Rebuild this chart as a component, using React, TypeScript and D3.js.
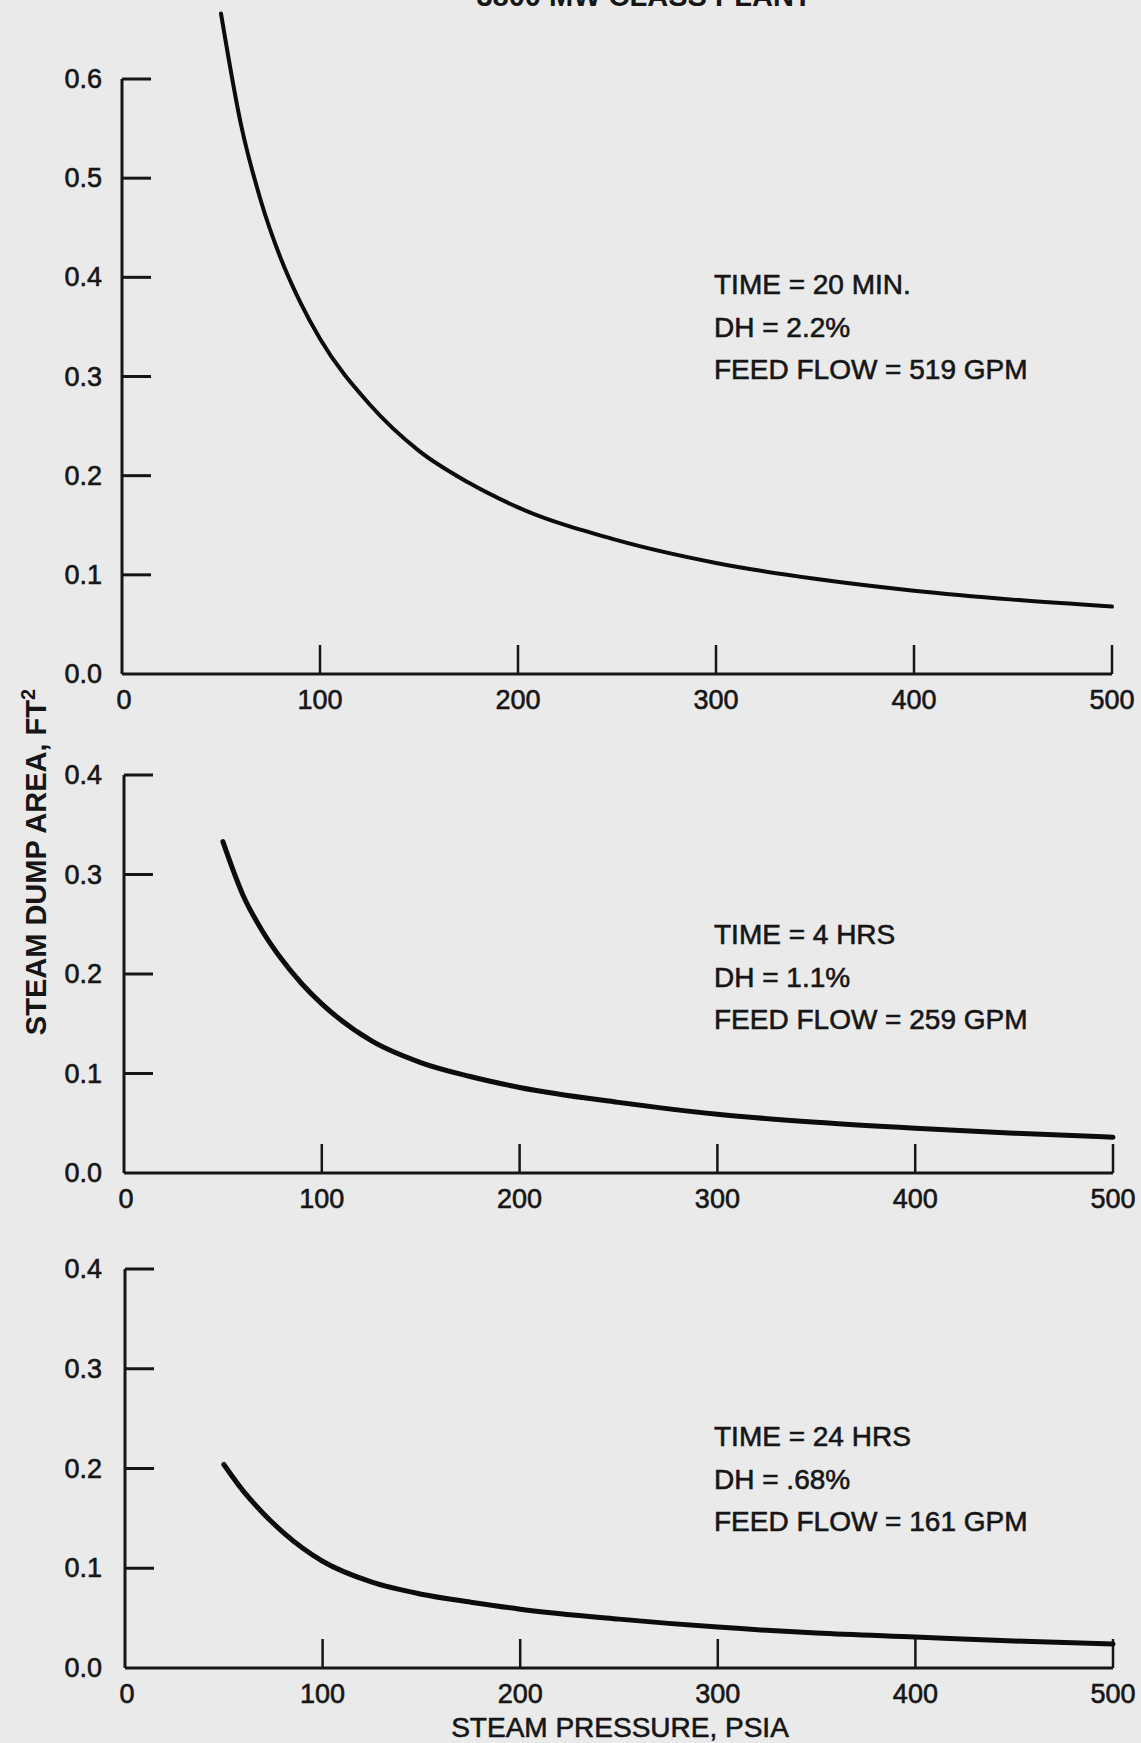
import React from "react";
import * as d3 from "d3";

// ---- Data ----
const PRESSURE = [50, 60, 70, 80, 90, 100, 125, 150, 175, 200, 250, 300, 350, 400, 450, 500];
const AREA_20MIN = [0.666, 0.555, 0.478, 0.42, 0.375, 0.338, 0.272, 0.225, 0.193, 0.168, 0.135, 0.112, 0.096, 0.084, 0.075, 0.068];
const AREA_4HRS = [0.333, 0.28, 0.243, 0.214, 0.19, 0.17, 0.133, 0.111, 0.097, 0.086, 0.071, 0.059, 0.051, 0.045, 0.04, 0.036];
const AREA_24HRS = [0.204, 0.177, 0.155, 0.136, 0.12, 0.107, 0.086, 0.074, 0.066, 0.059, 0.049, 0.041, 0.035, 0.031, 0.027, 0.024];

const X_TICKS = [0, 100, 200, 300, 400, 500];
const Y_TICKS_TOP = [0.0, 0.1, 0.2, 0.3, 0.4, 0.5, 0.6];
const Y_TICKS_LOWER = [0.0, 0.1, 0.2, 0.3, 0.4];

const NOTES_20MIN = ["TIME = 20 MIN.", "DH = 2.2%", "FEED FLOW = 519 GPM"];
const NOTES_4HRS = ["TIME = 4 HRS", "DH = 1.1%", "FEED FLOW = 259 GPM"];
const NOTES_24HRS = ["TIME = 24 HRS", "DH = .68%", "FEED FLOW = 161 GPM"];

const TITLE = "3800 MW CLASS PLANT";
const X_LABEL = "STEAM PRESSURE, PSIA";
const Y_LABEL = "STEAM DUMP AREA, FT";

// ---- Layout ----
const W = 1141;
const H = 1743;
const FONT = "'Liberation Sans', Arial, Helvetica, sans-serif";
const INK = "#161616";
const TXT = { fill: INK, stroke: INK, strokeWidth: 0.6, fontFamily: FONT };

type PanelDef = {
  values: number[];
  yMax: number;
  yTicks: number[];
  notes: string[];
  left: number;
  right: number;
  top: number;
  bottom: number;
  curveWidth: number;
  noteY: number;
};

const panels: PanelDef[] = [
  { values: AREA_20MIN, yMax: 0.6, yTicks: Y_TICKS_TOP, notes: NOTES_20MIN, left: 122, right: 1112, top: 79, bottom: 674, curveWidth: 4, noteY: 294 },
  { values: AREA_4HRS, yMax: 0.4, yTicks: Y_TICKS_LOWER, notes: NOTES_4HRS, left: 124, right: 1113, top: 775, bottom: 1173, curveWidth: 5, noteY: 944 },
  { values: AREA_24HRS, yMax: 0.4, yTicks: Y_TICKS_LOWER, notes: NOTES_24HRS, left: 125, right: 1113, top: 1269, bottom: 1668, curveWidth: 5, noteY: 1446 },
];

function Panel({ p }: { p: PanelDef }) {
  const x = d3.scaleLinear().domain([0, 500]).range([p.left, p.right]);
  const y = d3.scaleLinear().domain([0, p.yMax]).range([p.bottom, p.top]);
  const line = d3
    .line<number>()
    .x((_, i) => x(PRESSURE[i]))
    .y((v) => y(v))
    .curve(d3.curveMonotoneX);
  const tickLen = 29;
  return (
    <g>
      <line x1={x(0)} x2={x(0)} y1={y(p.yMax)} y2={y(0)} stroke={INK} strokeWidth={3} />
      <line x1={x(0)} x2={x(500)} y1={y(0)} y2={y(0)} stroke={INK} strokeWidth={3.2} />
      {p.yTicks.filter((t) => t > 0).map((t) => (
        <line key={"yt" + t} x1={x(0)} x2={x(0) + tickLen} y1={y(t)} y2={y(t)} stroke={INK} strokeWidth={3} />
      ))}
      {X_TICKS.filter((t) => t > 0).map((t) => (
        <line key={"xt" + t} x1={x(t)} x2={x(t)} y1={y(0)} y2={y(0) - tickLen} stroke={INK} strokeWidth={2.5} />
      ))}
      {p.yTicks.map((t) => (
        <text key={"yl" + t} x={102} y={y(t) + 9} textAnchor="end" fontSize={27} {...TXT}>
          {t.toFixed(1)}
        </text>
      ))}
      {X_TICKS.map((t) => (
        <text key={"xl" + t} x={x(t) + (t === 0 ? 2 : 0)} y={y(0) + 35} textAnchor="middle" fontSize={27} {...TXT}>
          {t}
        </text>
      ))}
      <path d={line(p.values) || ""} fill="none" stroke="#0c0c0c" strokeWidth={p.curveWidth} strokeLinecap="round" />
      {p.notes.map((n, i) => (
        <text key={"n" + i} x={714} y={p.noteY + i * 42.5} fontSize={28} {...TXT}>
          {n}
        </text>
      ))}
    </g>
  );
}

export default function App() {
  return (
    <div style={{ position: "absolute", left: 0, top: 0 }}>
      <svg width={W} height={H} viewBox={`0 0 ${W} ${H}`} style={{ display: "block" }}>
        <rect x={0} y={0} width={W} height={H} fill="#eaeaea" />
        <text x={644} y={6} textAnchor="middle" fontSize={29} fontWeight="bold" fontFamily={FONT} fill={INK}>
          {TITLE}
        </text>
        {panels.map((p, i) => (
          <Panel key={i} p={p} />
        ))}
        <text
          transform="translate(46,862) rotate(-90)"
          textAnchor="middle"
          fontSize={29}
          fontWeight="bold"
          fontFamily={FONT}
          fill={INK}
        >
          {Y_LABEL}
          <tspan dy={-11} fontSize={20}>2</tspan>
        </text>
        <text x={620} y={1737} textAnchor="middle" fontSize={28} {...TXT}>
          {X_LABEL}
        </text>
      </svg>
    </div>
  );
}
